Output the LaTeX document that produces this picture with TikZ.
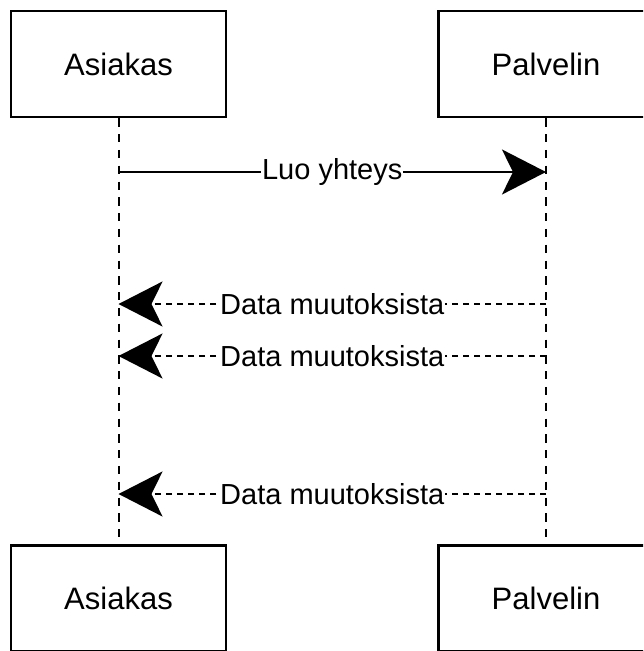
\documentclass[tikz,border=0pt]{standalone}
\usepackage{fontspec}
\setmainfont{Liberation Sans}
\usetikzlibrary{arrows.meta}
\begin{document}
\begin{tikzpicture}[x=1pt,y=-1pt,
  actor/.style={draw=black,line width=2.6pt,fill=white,minimum width=215pt,minimum height=106pt,inner sep=0pt,font=\fontsize{31}{35}\selectfont},
  lifeline/.style={draw=black,line width=2pt,dash pattern=on 8.3pt off 7.5pt},
  msg/.style={draw=black,line width=2pt,-{Stealth[length=44pt,width=45pt,inset=11pt]}},
  reply/.style={msg,dash pattern=on 6pt off 5pt},
  msglabel/.style={fill=white,inner sep=1pt,font=\fontsize{29}{33}\selectfont}]
  \useasboundingbox (0,0) rectangle (643,651);
  \begin{scope}
    \clip (0,0) rectangle (643,651);
    % participants, top and bottom
    \node[actor] (clientTop) at (118.5,64) {Asiakas};
    \node[actor] (serverTop) at (546,64) {Palvelin};
    \node[actor] (clientBot) at (118.5,598.5) {Asiakas};
    \node[actor] (serverBot) at (546,598.5) {Palvelin};
  \end{scope}
  % lifelines
  \draw[lifeline] (clientTop.south) -- (clientBot.north);
  \draw[lifeline] (serverTop.south) -- (serverBot.north);
  % message end points on the lifelines
  \coordinate (c1) at (clientTop.south |- 0,172);
  \coordinate (s1) at (serverTop.south |- 0,172);
  \coordinate (c2) at (clientTop.south |- 0,304);
  \coordinate (s2) at (serverTop.south |- 0,304);
  \coordinate (c3) at (clientTop.south |- 0,356);
  \coordinate (s3) at (serverTop.south |- 0,356);
  \coordinate (c4) at (clientTop.south |- 0,494);
  \coordinate (s4) at (serverTop.south |- 0,494);
  % messages
  \draw[msg] (c1) -- node[msglabel] {Luo yhteys} (s1);
  \draw[reply] (s2) -- node[msglabel] {Data muutoksista} (c2);
  \draw[reply] (s3) -- node[msglabel] {Data muutoksista} (c3);
  \draw[reply] (s4) -- node[msglabel] {Data muutoksista} (c4);
\end{tikzpicture}
\end{document}
